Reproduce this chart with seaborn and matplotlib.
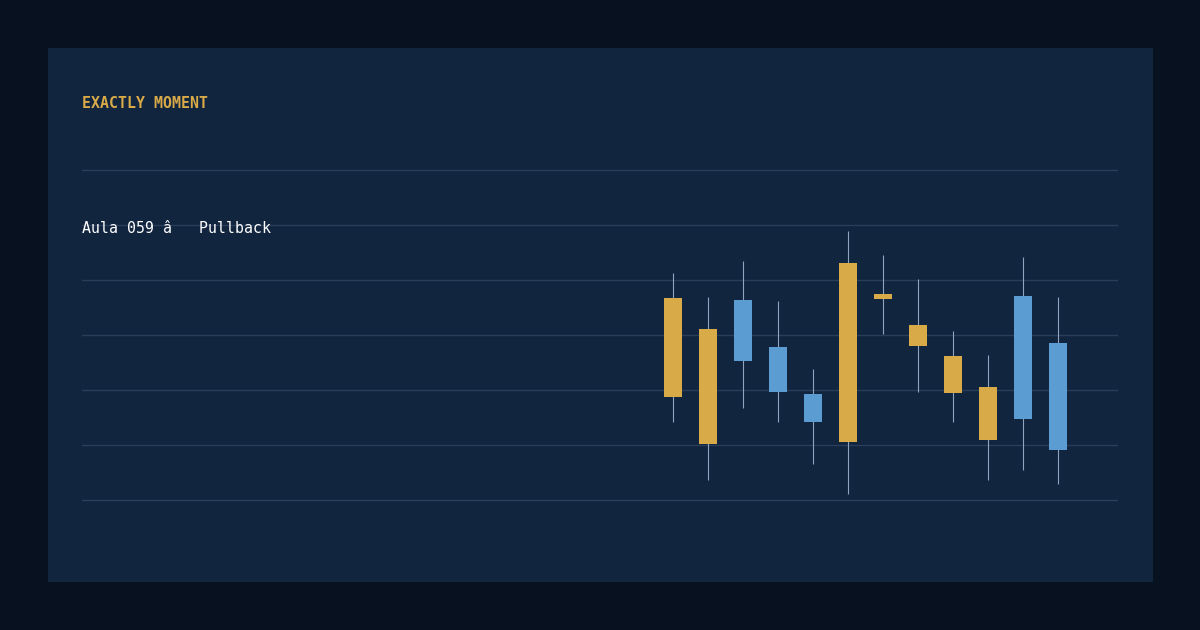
import matplotlib
matplotlib.use("Agg")
import matplotlib.pyplot as plt
from matplotlib.patches import Rectangle
import numpy as np
import pandas as pd
import seaborn as sns

# Data
idx = np.arange(12)
opens = [136.7, 131.1, 125.3, 119.6, 114.1, 143.1, 137.5, 131.8, 126.2, 120.5, 114.7, 109.1]
highs = [141.3, 136.9, 143.5, 136.2, 123.8, 148.9, 144.5, 140.2, 130.7, 126.4, 144.2, 136.9]
lows = [114.2, 103.7, 116.8, 114.2, 106.6, 101.1, 130.2, 119.6, 114.2, 103.7, 105.5, 103.0]
closes = [118.7, 110.2, 136.4, 127.8, 119.3, 110.6, 136.5, 128.0, 119.5, 110.9, 137.1, 128.5]
grid_ticks = [100, 110, 120, 130, 140, 150, 160]

title = "EXACTLY MOMENT"
subtitle = "Aula 059 â   Pullback"

BG_OUT = "#08111f"
BG_PANEL = "#12253f"
GOLD = "#d8aa48"
BLUE = "#5b9dd3"
WICK = "#8ea4bf"
GRID = "#2b3e59"

df = pd.DataFrame({"i": idx, "open": opens, "high": highs, "low": lows, "close": closes})
df["up"] = df["close"] >= df["open"]

sns.set_theme(style="dark")
plt.rcParams["font.family"] = ["DejaVu Sans Mono", "DejaVu Sans"]

fig = plt.figure(figsize=(12, 6.3), dpi=100)
fig.patch.set_facecolor(BG_OUT)
fig.patches.append(Rectangle((48 / 1200, 48 / 630), 1105 / 1200, 534 / 630,
                             transform=fig.transFigure, facecolor=BG_PANEL,
                             edgecolor="none", zorder=-5))

# axes spans y pixels 159..511 (5.5 px per unit), x pixels 82..1118
ax = fig.add_axes([82 / 1200, 119 / 630, 1036 / 1200, 352 / 630])
ax.set_zorder(2)
ax.set_facecolor("none")

# wicks
ax.vlines(df["i"], df["low"], df["high"], color=WICK, linewidth=0.8, zorder=2)
# bodies
body_colors = [BLUE if u else GOLD for u in df["up"]]
bottoms = np.minimum(df["open"], df["close"])
heights = np.maximum(np.abs(df["close"] - df["open"]), 0.9)
ax.bar(df["i"], heights, bottom=bottoms, width=0.49, color=body_colors,
       edgecolor="none", linewidth=0, zorder=3)

ax.set_xlim(-16.886, 12.714)
ax.set_ylim(98, 162)
ax.set_yticks(grid_ticks)
ax.set_xticks([])
ax.grid(axis="y", color=GRID, linewidth=1)
ax.grid(axis="x", visible=False)
ax.tick_params(left=False, bottom=False, labelleft=False, labelbottom=False)
for s in ax.spines.values():
    s.set_visible(False)

fig.text(82 / 1200, (630 - 108) / 630, title, color=GOLD, fontsize=10.7,
         fontweight="bold", va="baseline", ha="left", zorder=5)
fig.text(82 / 1200, (630 - 233) / 630, subtitle, color="white", fontsize=10.7,
         va="baseline", ha="left", zorder=5)

fig.savefig("out.png", dpi=100, facecolor=BG_OUT)
